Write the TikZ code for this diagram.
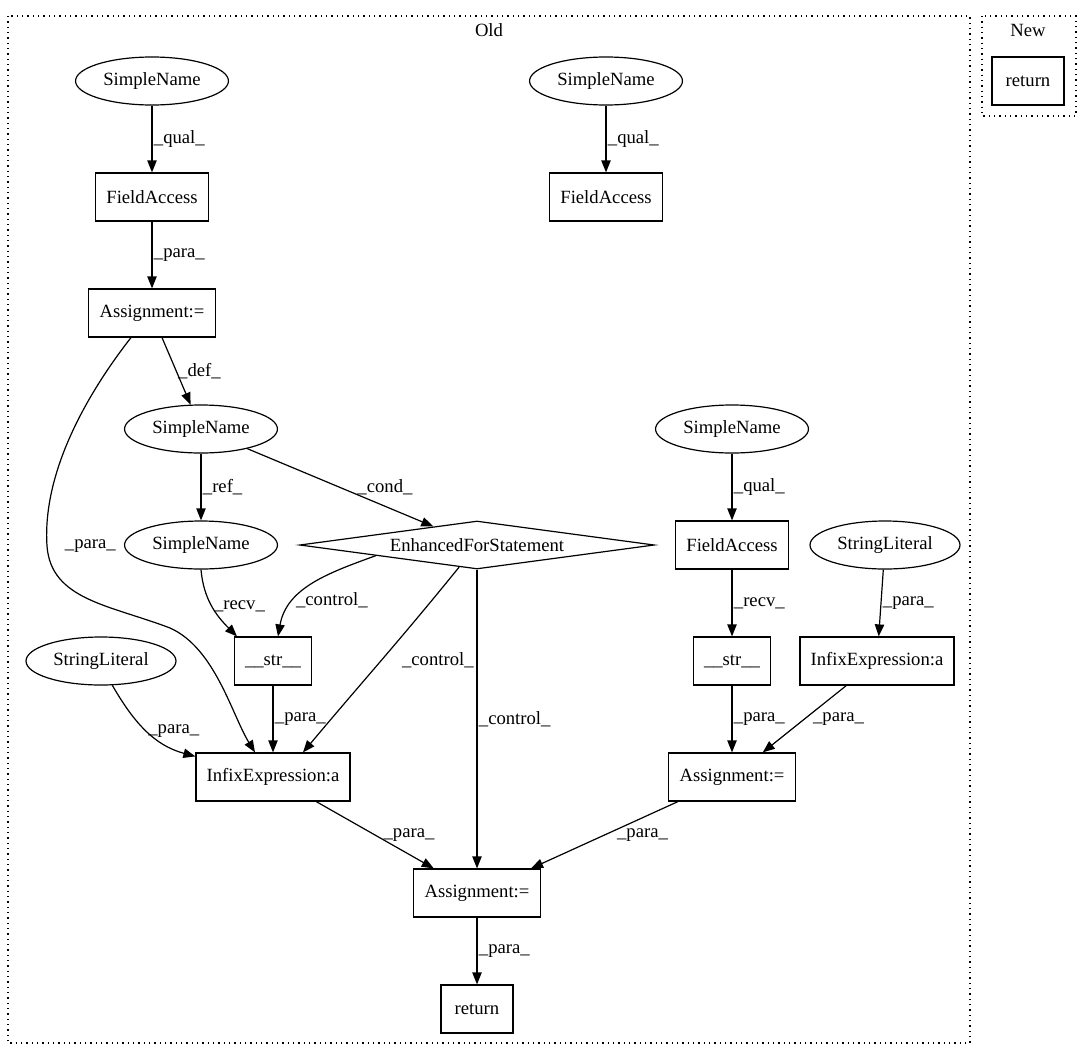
\documentclass[tikz,border=0pt]{standalone}
\usepackage{fontspec}
\setmainfont{Liberation Serif}
\usetikzlibrary{arrows.meta,positioning,shapes.geometric}

\begin{document}
\begin{tikzpicture}[x=0.75pt,y=-0.75pt,
      font=\fontsize{14}{16}\selectfont,
      box/.style={draw,line width=0.9pt,rectangle,minimum height=36pt,
        minimum width=54pt,inner xsep=8pt},
      oval/.style={draw,line width=0.9pt,ellipse,minimum height=36pt,inner xsep=4pt},
      rhomb/.style={draw,line width=0.9pt,diamond,shape aspect=7,inner sep=0pt,
        minimum width=266pt,minimum height=36pt},
      arrow/.style={-{Triangle[length=9pt,width=7pt]},line width=0.9pt},
      lbl/.style={inner sep=1pt},
      cluster/.style={draw,line width=0.9pt,dash pattern=on 1pt off 3pt}
    ]
      \useasboundingbox (0,0) rectangle (1091,1060);
      % clusters
      \draw[cluster] (8,16) rectangle (970,1043);
      \node (oldname) at (489,30) {Old};
      \draw[cluster] (982,16) rectangle (1076,116);
      \node (newname) at (1028,30) {New};
      % old graph
      \node[oval] (sn1) at (152,81) {SimpleName};
      \node[oval] (sn2) at (606,81) {SimpleName};
      \node[box] (fa1) at (152,197) {FieldAccess};
      \node[box] (fa2) at (606,197) {FieldAccess};
      \node[box] (asg1) at (152,313) {Assignment:=};
      \node[oval] (sn3) at (201,429) {SimpleName};
      \node[oval] (sn4) at (732,429) {SimpleName};
      \node[oval] (sn5) at (201,545) {SimpleName};
      \node[rhomb] (efs) at (477,545) {EnhancedForStatement};
      \node[box] (fa3) at (732,545) {FieldAccess};
      \node[oval] (sl2) at (885,545) {StringLiteral};
      \node[oval] (sl1) at (101,661) {StringLiteral};
      \node[box] (str1) at (273,661) {\_\_str\_\_};
      \node[box] (str2) at (732,661) {\_\_str\_\_};
      \node[box] (infix2) at (877,661) {InfixExpression:a};
      \node[box] (infix1) at (273,777) {InfixExpression:a};
      \node[box] (asg2) at (732,777) {Assignment:=};
      \node[box] (asg3) at (477,893) {Assignment:=};
      \node[box] (ret) at (477,1009) {return};
      % new graph
      \node[box] (newret) at (1028,81) {return};
      % edges
      \draw[arrow] (sn1) -- (fa1) node[lbl,right,pos=.5] {\_qual\_};
      \draw[arrow] (sn2) -- (fa2) node[lbl,right,pos=.5] {\_qual\_};
      \draw[arrow] (fa1) -- (asg1) node[lbl,right,pos=.5] {\_para\_};
      \draw[arrow] ([shift={(10,0)}]asg1.south) -- (sn3) node[lbl,right,pos=.5] {\_def\_};
      \draw[arrow] ([shift={(-21,0)}]asg1.south) .. controls (90,390) and (42,470) .. (47,546)
        node[lbl,anchor=west,xshift=12pt] {\_para\_}
        .. controls (51,600) and (110,605) .. (170,628)
        .. controls (215,648) and (232,715) .. ([shift={(-18,0)}]infix1.north);
      \draw[arrow] (sn3) -- (sn5) node[lbl,right,pos=.5] {\_ref\_};
      \draw[arrow] (sn3.-23) -- (efs.157) node[lbl,pos=.74,yshift=14pt] {\_cond\_};
      \draw[arrow] (sn5.south) to[out=-85,in=135] node[lbl,right,pos=.5] {\_recv\_}
        ([shift={(-36,0)}]str1.north);
      \draw[arrow] (efs.186) to[out=200,in=80] node[lbl,right,pos=.7] {\_control\_}
        ([shift={(5,0)}]str1.north);
      \draw[arrow] (efs.231) to[out=231,in=50] node[lbl,right=14pt,pos=.5] {\_control\_}
        ([shift={(30,0)}]infix1.north);
      \draw[arrow] (efs) -- (asg3) node[lbl,right,pos=.5] {\_control\_};
      \draw[arrow] (str1) -- (infix1) node[lbl,right,pos=.5] {\_para\_};
      \draw[arrow] (sl1.-65) to[out=-60,in=165] node[lbl,right,pos=.5] {\_para\_}
        ([shift={(0,4)}]infix1.north west);
      \draw[arrow] (sn4) -- (fa3) node[lbl,right,pos=.5] {\_qual\_};
      \draw[arrow] (fa3) -- (str2) node[lbl,right,pos=.5] {\_recv\_};
      \draw[arrow] (sl2) -- (infix2) node[lbl,right,pos=.5] {\_para\_};
      \draw[arrow] (str2) -- (asg2) node[lbl,right,pos=.5] {\_para\_};
      \draw[arrow] (infix2) -- (asg2) node[lbl,right=5pt,pos=.5] {\_para\_};
      \draw[arrow] (infix1) -- (asg3) node[lbl,right=5pt,pos=.5] {\_para\_};
      \draw[arrow] (asg2) -- (asg3) node[lbl,right=8pt,pos=.5] {\_para\_};
      \draw[arrow] (asg3) -- (ret) node[lbl,right,pos=.5] {\_para\_};
    \end{tikzpicture}
\end{document}
